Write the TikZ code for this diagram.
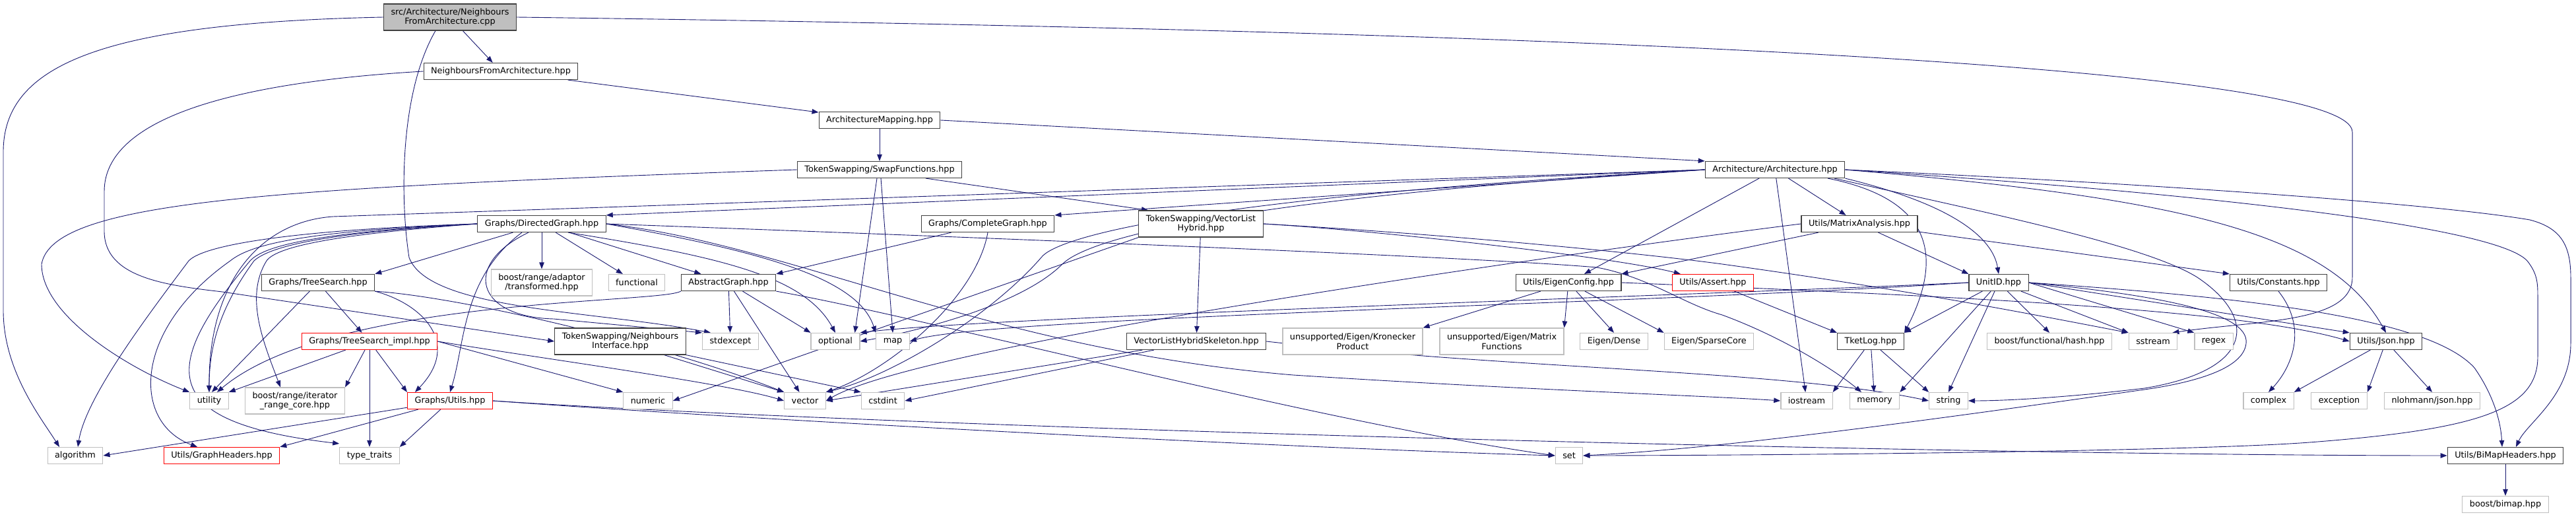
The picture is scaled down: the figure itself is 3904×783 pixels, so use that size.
\documentclass[tikz,border=0pt]{standalone}
\usepackage{fontspec}
\setmainfont{DejaVu Sans}
\usetikzlibrary{arrows.meta}
\definecolor{edgeblue}{HTML}{191970}
\definecolor{sysgray}{HTML}{BFBFBF}
\pgfdeclarelayer{background}
\pgfsetlayers{background,main}

\begin{document}
\begin{tikzpicture}[x=1pt, y=-1pt,
  every node/.style={font=\fontsize{12.8}{14.5}\selectfont, inner xsep=11pt, inner ysep=0pt, minimum height=25pt, align=center, line width=1.2pt, fill=white},
  file/.style={draw=black!75},
  sysfile/.style={draw=sysgray},
  trunc/.style={draw=red},
  rootfile/.style={draw=black!75, fill=sysgray},
  twoline/.style={minimum height=40pt},
  dep/.style={draw=edgeblue, line width=0.9pt, -{Triangle[length=10pt,width=7.5pt]}}]
\useasboundingbox (0,0) rectangle (3904,783);

% row 0 - 3
\node[rootfile, twoline] (root) at (682,26) {src/Architecture/Neighbours\\FromArchitecture.cpp};
\node[file] (nfa) at (759,108) {NeighboursFromArchitecture.hpp};
\node[file] (archmap) at (1333,182) {ArchitectureMapping.hpp};
\node[file] (swapfn) at (1333,257) {TokenSwapping/SwapFunctions.hpp};
\node[file] (arch) at (2690,257) {Architecture/Architecture.hpp};

% row 4
\node[file] (dirgraph) at (821,339) {Graphs/DirectedGraph.hpp};
\node[file] (compgraph) at (1497,339) {Graphs/CompleteGraph.hpp};
\node[file, twoline] (vlh) at (1820,339) {TokenSwapping/VectorList\\Hybrid.hpp};
\node[file] (matrix) at (2818,339) {Utils/MatrixAnalysis.hpp};

% row 5
\node[file] (treesearch) at (482,428) {Graphs/TreeSearch.hpp};
\node[sysfile, twoline] (adaptor) at (821,428) {boost/range/adaptor\\/transformed.hpp};
\node[sysfile] (functional) at (965,428) {functional};
\node[file] (absgraph) at (1104,428) {AbstractGraph.hpp};
\node[file] (eigencfg) at (2377,428) {Utils/EigenConfig.hpp};
\node[trunc] (assert) at (2596,428) {Utils/Assert.hpp};
\node[file] (unitid) at (3029,428) {UnitID.hpp};
\node[file] (constants) at (3453,428) {Utils/Constants.hpp};

% row 6
\node[trunc] (tsimpl) at (560,517) {Graphs/TreeSearch\_impl.hpp};
\node[file, twoline] (nbrif) at (940,517) {TokenSwapping/Neighbours\\Interface.hpp};
\node[sysfile] (stdexcept) at (1107,517) {stdexcept};
\node[sysfile] (optional) at (1266,517) {optional};
\node[sysfile] (map) at (1353,517) {map};
\node[file] (vlhskel) at (1813,517) {VectorListHybridSkeleton.hpp};
\node[sysfile, twoline] (kron) at (2050,517) {unsupported/Eigen/Kronecker\\Product};
\node[sysfile, twoline] (matfun) at (2276,517) {unsupported/Eigen/Matrix\\Functions};
\node[sysfile] (dense) at (2446,517) {Eigen/Dense};
\node[sysfile] (sparse) at (2590,517) {Eigen/SparseCore};
\node[file] (tketlog) at (2835,517) {TketLog.hpp};
\node[sysfile] (hash) at (3106,517) {boost/functional/hash.hpp};
\node[sysfile] (sstream) at (3263,517) {sstream};
\node[sysfile] (regex) at (3355,517) {regex};
\node[file] (json) at (3616,517) {Utils/Json.hpp};

% row 7
\node[sysfile] (utility) at (317,607) {utility};
\node[sysfile, twoline] (itrange) at (447,607) {boost/range/iterator\\\_range\_core.hpp};
\node[trunc] (gutils) at (682,607) {Graphs/Utils.hpp};
\node[sysfile] (numeric) at (982,607) {numeric};
\node[sysfile] (vector) at (1220,607) {vector};
\node[sysfile] (cstdint) at (1338,607) {cstdint};
\node[sysfile] (iostream) at (2738,607) {iostream};
\node[sysfile] (memory) at (2841,607) {memory};
\node[sysfile] (string) at (2953,607) {string};
\node[sysfile] (complex) at (3438,607) {complex};
\node[sysfile] (exception) at (3545,607) {exception};
\node[sysfile] (nlohmann) at (3686,607) {nlohmann/json.hpp};

% row 8 - 9
\node[sysfile] (algorithm) at (114,690) {algorithm};
\node[trunc] (gheaders) at (336,690) {Utils/GraphHeaders.hpp};
\node[sysfile] (typetraits) at (560,690) {type\_traits};
\node[sysfile] (set) at (2378,690) {set};
\node[file] (bimaph) at (3797,690) {Utils/BiMapHeaders.hpp};
\node[sysfile] (bimap) at (3797,764) {boost/bimap.hpp};

\begin{pgfonlayer}{background}
% source file
\draw[dep] (root) -- (nfa);
\draw[dep] (root.west) .. controls (150,35) and (5,100) .. (5,230) -- (5,470) .. controls (5,560) and (60,630) .. ([xshift=-24pt]algorithm.north);
\draw[dep] (root.east) .. controls (2600,50) and (3565,110) .. (3565,200) -- (3565,420) .. controls (3565,490) and (3420,485) .. ([xshift=-8pt]sstream.north east);
\draw[dep] ([xshift=-22pt]root.south) .. controls (606,140) and (606,300) .. (620,390) .. controls (650,470) and (900,470) .. ([xshift=-30pt]stdexcept.north);
% neighbours
\draw[dep] (nfa) -- (archmap);
\draw[dep] (nfa.west) .. controls (350,125) and (158,180) .. (158,290) -- (158,350) .. controls (158,420) and (250,432) .. (337,442) -- (nbrif.west);
\draw[dep] (archmap) -- (swapfn);
\draw[dep] (archmap.east) -- (arch.north west);
% swap functions
\draw[dep] (swapfn.west) .. controls (400,285) and (80,305) .. (63,400) .. controls (63,480) and (200,560) .. (utility.north west);
\draw[dep] ([xshift=-4pt]swapfn.south) -- ([xshift=-8pt]optional.north east);
\draw[dep] ([xshift=2pt]swapfn.south) -- (map.north);
\draw[dep] ([xshift=70pt]swapfn.south) -- ([xshift=-80pt]vlh.north);
% architecture
\draw[dep] (arch.west) -- (dirgraph.north east);
\draw[dep] (arch.west) -- (compgraph.north east);
\draw[dep] (arch.west) -- (505,328) .. controls (400,335) and (316,420) .. (utility.north);
\draw[dep] (arch.west) .. controls (1800,300) and (1600,360) .. (1578,390) .. controls (1500,480) and (1350,570) .. (vector.north east);
\draw[dep] (arch.west) .. controls (1800,305) and (1640,370) .. (1610,400) .. controls (1550,460) and (1400,500) .. (optional.east);
\draw[dep] (arch) -- (matrix);
\draw[dep] (arch) -- (eigencfg);
\draw[dep] (arch) -- (iostream);
\draw[dep] ([xshift=80pt]arch.south) .. controls (2920,300) and (2950,380) .. (tketlog.north east);
\draw[dep] (arch.south east) .. controls (2960,310) and (3020,360) .. (unitid.north);
\draw[dep] (arch.east) .. controls (3300,300) and (3530,350) .. (json.north);
\draw[dep] (arch.east) .. controls (3300,280) and (3700,310) .. (3834,333) .. controls (3880,345) and (3896,370) .. (3896,420) -- (3896,520) .. controls (3896,600) and (3830,640) .. ([xshift=16pt]bimaph.north);
\draw[dep] (arch.east) .. controls (3300,290) and (3780,340) .. (3830,395) .. controls (3846,415) and (3846,430) .. (3846,450) -- (3846,540) .. controls (3846,620) and (3760,650) .. (3500,670) .. controls (3300,685) and (2600,690) .. (set.east);
\draw[dep] ([xshift=90pt]arch.south) .. controls (3000,320) and (3250,370) .. (3330,420) .. controls (3420,480) and (3420,560) .. (3250,588) .. controls (3150,600) and (3050,607) .. (string.east);
% complete graph
\draw[dep] (compgraph) -- (absgraph.north east);
\draw[dep] (compgraph.south) .. controls (1480,450) and (1350,560) .. (vector.north east);
% directed graph
\draw[dep] (dirgraph) -- (treesearch.north east);
\draw[dep] (dirgraph) -- (adaptor);
\draw[dep] (dirgraph) -- (functional);
\draw[dep] (dirgraph) -- (absgraph);
\draw[dep] (dirgraph.west) .. controls (450,348) and (310,370) .. (286,395) .. controls (230,470) and (130,600) .. ([xshift=4pt]algorithm.north);
\draw[dep] (dirgraph.west) .. controls (460,350) and (380,370) .. (349,395) .. controls (200,500) and (200,640) .. ([xshift=-37pt]gheaders.north);
\draw[dep] (dirgraph.west) .. controls (480,352) and (400,372) .. (379,395) .. controls (240,560) and (240,640) .. ([yshift=5pt]typetraits.north west);
\draw[dep] (dirgraph.west) .. controls (500,352) and (410,372) .. (385,395) .. controls (330,470) and (317,530) .. (utility.north);
\draw[dep] (dirgraph.west) .. controls (520,354) and (420,372) .. (404,395) .. controls (370,450) and (400,520) .. ([xshift=-22pt]itrange.north);
\draw[dep] ([xshift=-30pt]dirgraph.south) .. controls (700,420) and (705,520) .. (gutils.north);
\draw[dep] ([xshift=-20pt]dirgraph.south) .. controls (700,400) and (720,480) .. (839,483) -- (stdexcept.north west);
\draw[dep] ([xshift=40pt]dirgraph.south) .. controls (1100,390) and (1220,420) .. (optional.north);
\draw[dep] (dirgraph.east) .. controls (1150,380) and (1300,420) .. (map.north west);
\draw[dep] (dirgraph.east) .. controls (1200,370) and (1500,530) .. (1960,568) .. controls (2300,590) and (2600,600) .. (iostream.west);
\draw[dep] (dirgraph.east) .. controls (1500,360) and (2250,390) .. (2420,405) .. controls (2500,420) and (2550,460) .. (2610,477) .. controls (2700,510) and (2780,560) .. ([xshift=-20pt]memory.north);
% tree search
\draw[dep] (treesearch) -- (tsimpl);
\draw[dep] (treesearch) -- ([xshift=4pt]utility.north);
\draw[dep] (treesearch.south east) .. controls (640,460) and (700,520) .. ([xshift=12pt]gutils.north west);
\draw[dep] (treesearch.south east) .. controls (700,450) and (1000,520) .. (vector.north west);
\draw[dep] (tsimpl) -- (utility.north east);
\draw[dep] (tsimpl) -- (itrange.north east);
\draw[dep] (tsimpl) -- (typetraits);
\draw[dep] (tsimpl) -- (gutils.north west);
\draw[dep] (tsimpl.east) -- (numeric.north west);
\draw[dep] (tsimpl.east) .. controls (800,540) and (1100,580) .. (vector.west);
% graph utils
\draw[dep] (gutils) -- (algorithm.east);
\draw[dep] (gutils) -- (gheaders.north east);
\draw[dep] (gutils) -- (typetraits.north east);
\draw[dep] (gutils.east) .. controls (1200,640) and (2000,680) .. (set.west);
\draw[dep] (gutils.east) .. controls (1400,650) and (3000,690) .. (bimaph.west);
% abstract graph
\draw[dep] (absgraph) -- (stdexcept);
\draw[dep] (absgraph) -- (vector);
\draw[dep] (absgraph) -- (optional.north west);
\draw[dep] (absgraph.south west) .. controls (1000,460) and (500,450) .. ([xshift=12pt]utility.north);
\draw[dep] (absgraph.south east) .. controls (1400,480) and (2000,640) .. (set.west);
\draw[dep] (nbrif) -- (vector.north west);
\draw[dep] (nbrif.south east) -- (cstdint.north west);
% vector list hybrid
\draw[dep] (vlh) -- (vlhskel);
\draw[dep] (vlh.south west) -- (numeric.east);
\draw[dep] (vlh.east) .. controls (2100,350) and (2450,390) .. ([xshift=13pt]assert.north west);
\draw[dep] (vlh.east) .. controls (2200,355) and (2500,385) .. (2610,400) .. controls (2900,440) and (3100,480) .. (sstream.north west);
\draw[dep] (vlhskel) -- (vector.east);
\draw[dep] (vlhskel) -- (cstdint.east);
\draw[dep] (vlhskel.east) .. controls (2300,560) and (2700,560) .. (string.west);
% matrix analysis
\draw[dep] (matrix) -- (eigencfg.north east);
\draw[dep] (matrix) -- (unitid.north west);
\draw[dep] (matrix) -- (constants.north west);
\draw[dep] (matrix.west) .. controls (2400,380) and (1400,520) .. (vector.east);
% eigen config
\draw[dep] (eigencfg) -- (kron.north east);
\draw[dep] (eigencfg) -- (matfun.north east);
\draw[dep] (eigencfg) -- (dense.north);
\draw[dep] (eigencfg) -- (sparse.north west);
\draw[dep] (eigencfg.east) .. controls (3000,450) and (3400,470) .. (json.west);
% assert, unit id, log
\draw[dep] (assert) -- (tketlog.north west);
\draw[dep] (unitid) -- (tketlog.north east);
\draw[dep] (unitid) -- (memory.north east);
\draw[dep] (unitid) -- (string.north);
\draw[dep] (unitid) -- (hash.north);
\draw[dep] (unitid) -- (sstream.north west);
\draw[dep] (unitid.east) -- (regex.north west);
\draw[dep] (unitid.east) -- (json.north west);
\draw[dep] (unitid.east) .. controls (3400,450) and (3680,480) .. (3750,557) .. controls (3780,600) and (3790,640) .. ([xshift=-5pt]bimaph.north);
\draw[dep] (unitid.east) .. controls (3250,445) and (3410,470) .. (3404,520) .. controls (3400,560) and (3320,580) .. (3250,590) .. controls (2900,640) and (2600,680) .. (set.east);
\draw[dep] (unitid.west) .. controls (2500,450) and (1500,480) .. (optional.north east);
\draw[dep] (unitid.west) .. controls (2500,460) and (1500,480) .. (map.east);
\draw[dep] (tketlog) -- (iostream.north east);
\draw[dep] (tketlog) -- (memory);
\draw[dep] (tketlog) -- (string.north west);
% json, constants, bimap
\draw[dep] (constants.south) .. controls (3500,500) and (3470,560) .. (complex.north);
\draw[dep] (json) -- (complex.north east);
\draw[dep] (json) -- (exception.north east);
\draw[dep] (json) -- (nlohmann.north);
\draw[dep] (bimaph) -- (bimap);
\end{pgfonlayer}
\end{tikzpicture}
\end{document}
